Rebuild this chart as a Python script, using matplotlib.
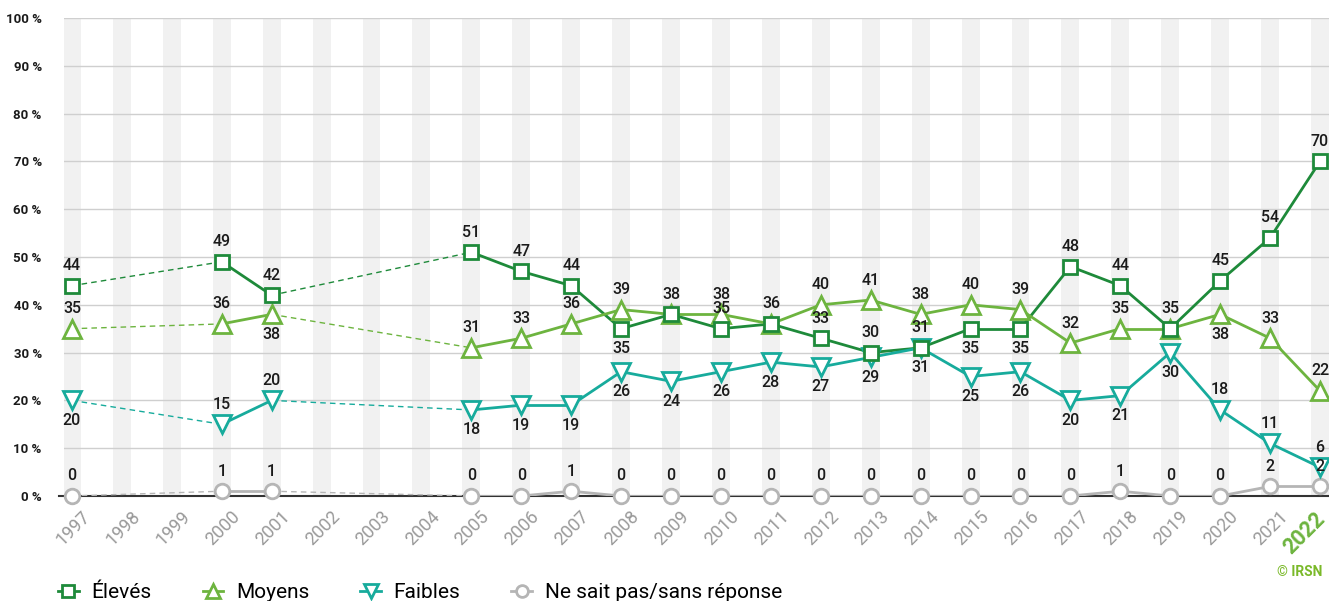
import matplotlib
matplotlib.use("Agg")
import matplotlib.pyplot as plt
from matplotlib.transforms import ScaledTranslation
from matplotlib.lines import Line2D

plt.rcParams['font.family'] = ['Roboto', 'DejaVu Sans']

years = [1997, 2000, 2001, 2005, 2006, 2007, 2008, 2009, 2010, 2011, 2012,
         2013, 2014, 2015, 2016, 2017, 2018, 2019, 2020, 2021, 2022]
eleves = [44, 49, 42, 51, 47, 44, 35, 38, 35, 36, 33, 30, 31, 35, 35, 48, 44, 35, 45, 54, 70]
moyens = [35, 36, 38, 31, 33, 36, 39, 38, 38, 36, 40, 41, 38, 40, 39, 32, 35, 35, 38, 33, 22]
faibles = [20, 15, 20, 18, 19, 19, 26, 24, 26, 28, 27, 29, 31, 25, 26, 20, 21, 30, 18, 11, 6]
nsp = [0, 1, 1, 0, 0, 1, 0, 0, 0, 0, 0, 0, 0, 0, 0, 0, 1, 0, 0, 2, 2]

all_years = list(range(1997, 2023))
series_names = ["Élevés", "Moyens", "Faibles", "Ne sait pas/sans réponse"]
yticks = list(range(0, 101, 10))
ytick_labels = [f"{v} %" for v in yticks]

# label placement (style): years whose label goes below the marker, years hidden
below = {
    "Élevés": {2008, 2014, 2015, 2016},
    "Moyens": {2001, 2020},
    "Faibles": {1997, 2005, 2006, 2007, 2008, 2009, 2010, 2011, 2012, 2013,
                2015, 2016, 2017, 2018, 2019},
    "Ne sait pas/sans réponse": set(),
}
hidden = {
    "Élevés": {2009, 2011},
    "Moyens": {2019},
    "Faibles": set(),
    "Ne sait pas/sans réponse": set(),
}

colors = ["#1e8a3a", "#6db43f", "#17ab9c", "#b5b5b5"]
markers = ["s", "^", "v", "o"]
msizes = [10.5, 12.5, 12.5, 10.5]

W, H = 1329, 601
fig = plt.figure(figsize=(W / 100, H / 100), dpi=100)
left_px, right_px, top_px, bot_px = 64, 1329, 18, 496
ax = fig.add_axes([left_px / W, 1 - bot_px / H, (right_px - left_px) / W, (bot_px - top_px) / H])

ax.set_xlim(1996.84, 2022.18)
ax.set_ylim(0, 100)

for yr in all_years:
    ax.axvspan(yr - 0.18, yr + 0.18, color="#f1f1f1", zorder=0, lw=0)
for v in yticks[1:]:
    ax.axhline(v, color="#cfcfcf", lw=1, zorder=1)
ax.axhline(0, color="#333333", lw=1.5, zorder=2, xmin=-0.004, clip_on=False)

data = [eleves, moyens, faibles, nsp]
for i, (name, vals) in enumerate(zip(series_names, data)):
    c = colors[i]
    for j in range(len(years) - 1):
        x0, x1 = years[j], years[j + 1]
        if x1 - x0 > 1:
            ax.plot([x0, x1], [vals[j], vals[j + 1]], color=c, lw=1, ls=(0, (4, 3)), zorder=3)
        else:
            ax.plot([x0, x1], [vals[j], vals[j + 1]], color=c, lw=2, zorder=3,
                    solid_capstyle='round')
    ax.plot(years, vals, ls="none", marker=markers[i], ms=msizes[i], mfc="white",
            mec=c, mew=2, zorder=5 + (3 - i), clip_on=False, color=c)
    for yr, v in zip(years, vals):
        if yr in hidden[name]:
            continue
        off = -20 if yr in below[name] else 20
        ax.annotate(str(v), (yr, v), xytext=(0, off), textcoords="offset pixels",
                    ha="center", va="center", fontsize=11.5, fontweight="medium",
                    color="#1a1a1a", zorder=10, annotation_clip=False)

for s in ax.spines.values():
    s.set_visible(False)
ax.set_yticks(yticks)
ax.set_yticklabels(ytick_labels, fontsize=9.5, fontweight="bold", color="#1a1a1a")
ax.tick_params(axis="y", length=0, pad=16)
ax.set_xticks(all_years)
ax.set_xticklabels([str(y) for y in all_years])
ax.tick_params(axis="x", length=0, pad=0)
for lab in ax.get_xticklabels():
    lab.set_rotation(45)
    lab.set_ha("center")
    lab.set_va("center")
    lab.set_rotation_mode("anchor")
    lab.set_fontsize(13)
    lab.set_color("#9a9a9a")
    if lab.get_text() == "2022":
        lab.set_fontsize(15.5)
        lab.set_fontweight("bold")
        lab.set_color("#6db43f")
        off = ScaledTranslation(-16 / 100, -37 / 100, fig.dpi_scale_trans)
    else:
        off = ScaledTranslation(1 / 100, -32 / 100, fig.dpi_scale_trans)
    lab.set_transform(lab.get_transform() + off)

leg_handles = [Line2D([], [], color=colors[i], lw=2, marker=markers[i], ms=msizes[i] - 2,
                      mfc="white", mec=colors[i], mew=2) for i in range(4)]
fig.legend(leg_handles, series_names, loc="center left", bbox_to_anchor=(58 / W, 1 - 593 / H),
           ncol=4, frameon=False, fontsize=15, handlelength=1.0, handletextpad=0.6,
           columnspacing=2.45, borderaxespad=0, borderpad=0)

fig.text(1322 / W, 1 - 572 / H, "© IRSN", ha="right", va="center", fontsize=10,
         fontweight="bold", color="#7ab929")

fig.savefig("out.png", dpi=100)
